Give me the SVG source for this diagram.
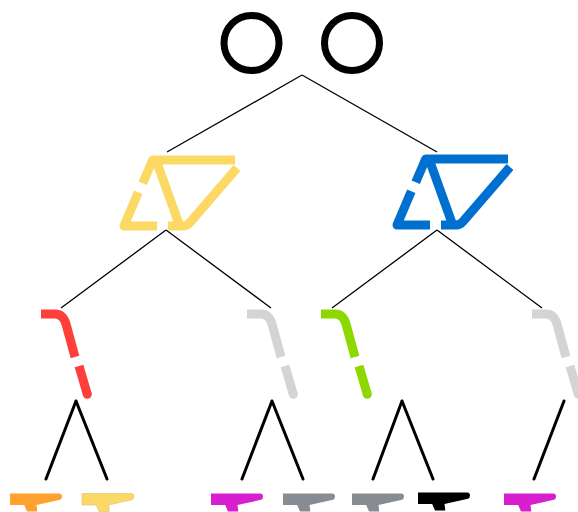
<svg xmlns="http://www.w3.org/2000/svg" width="578" height="512" viewBox="0 0 578 512">
<defs>
<style>
.c{fill:none;stroke:#000;stroke-width:7}
.e{stroke:#000;stroke-width:1.3;fill:none}
.e2{stroke:#000;stroke-width:3;fill:none;stroke-linecap:round}
.f{fill:none;stroke-width:9;stroke-linejoin:round;stroke-linecap:butt}
.s{fill:none;stroke-width:9;stroke-linecap:butt}
</style>
<path id="sub" d="M0 .5H49Q52 .5 52 3.500Q52 6 50 6.800L26.500 12L27.300 18.500H17L14.200 12H0Z"/>
<g id="tri">
<path class="f" stroke-linejoin="miter" d="M142.700 183.300L152.700 160H235"/>
<path class="f" d="M138.300 192.300L124 226H157"/>
<path class="f" d="M156 160L179 224"/>
<path class="f" d="M168 226H183Q187 226 190 222.500L237 168"/>
</g>
<g id="bent">
<path class="s" d="M0 0H14Q22 0 25 10L34 43"/>
<path class="s" d="M38 52L46.300 80.300"/>
<circle cx="46.300" cy="80.300" r="4.500" stroke="none" fill="currentColor"/>
</g>
</defs>
<rect width="578" height="512" fill="#fff"/>
<g id="connectors">
<path class="e" d="M302 75L167 152M302 75L437 152"/>
<path class="e" d="M166 230L61 308M166 230L271 308M437 230L332 308M437 230L542 308"/>
<path class="e2" d="M76 401L46 479M76 401L107 479M272 401L242 479M272 401L303 479M402 401L373 479M402 401L433 479M564 401L534 479"/>
</g>
<g id="n1"><circle class="c" cx="251.500" cy="43" r="27.500"/></g>
<g id="n2"><circle class="c" cx="352" cy="43" r="27.500"/></g>
<g id="n3" stroke="#fbd964"><use href="#tri"/></g>
<g id="n4" stroke="#0070d0"><use href="#tri" x="273" y="-1"/></g>
<g id="n5" stroke="#ff403a" color="#ff403a"><use href="#bent" x="41" y="314"/></g>
<g id="n6" stroke="#d4d4d4" color="#d4d4d4"><use href="#bent" x="247" y="314"/></g>
<g id="n7" stroke="#8cd800" color="#8cd800"><use href="#bent" x="321" y="314"/></g>
<g id="n8" stroke="#d4d4d4" color="#d4d4d4"><use href="#bent" x="532" y="314"/></g>
<g id="n9" fill="#ffa12e"><use href="#sub" x="10" y="493"/></g>
<g id="n10" fill="#fbd964" stroke="#e0c878" stroke-width=".7"><use href="#sub" x="82" y="493"/></g>
<g id="n11" fill="#d81fd0"><use href="#sub" x="211" y="493"/></g>
<g id="n12" fill="#878c92"><use href="#sub" x="283" y="493"/></g>
<g id="n13" fill="#878c92"><use href="#sub" x="352" y="493"/></g>
<g id="n14" fill="#000"><use href="#sub" x="418" y="492"/></g>
<g id="n15" fill="#d81fd0"><use href="#sub" x="504" y="493"/></g>
</svg>
